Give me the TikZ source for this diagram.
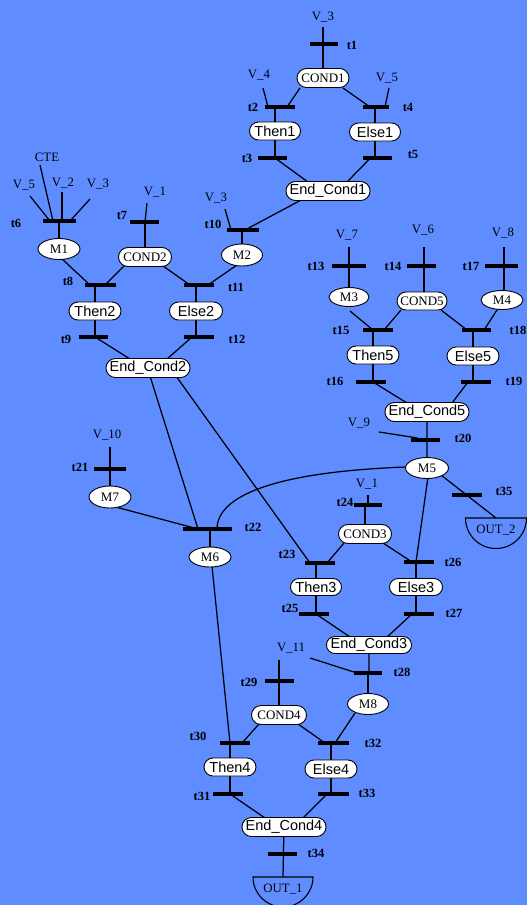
\documentclass[tikz,border=0pt]{standalone}
\usepackage{fontspec}
\setmainfont{Liberation Serif}
\setsansfont{Liberation Sans}
\usetikzlibrary{shapes.misc,shapes.geometric,calc}
\pgfdeclarelayer{bg}
\pgfsetlayers{bg,main}
\definecolor{netblue}{RGB}{95,141,255}

\begin{document}
\begin{tikzpicture}[x=1pt,y=-1pt,
  tbar/.style={rectangle,fill=black,inner sep=0pt,minimum height=4.3pt,minimum width=#1},
  tbar/.default=30,
  snode/.style={rounded rectangle,draw,fill=white,line width=0.9pt,inner sep=1pt,
    minimum height=18,font=\sffamily\fontsize{14.5}{14.5}\selectfont},
  cnode/.style={snode,minimum height=19,font=\rmfamily\fontsize{13}{13}\selectfont},
  mnode/.style={ellipse,draw,fill=white,line width=0.9pt,inner sep=0pt,
    minimum height=21,minimum width=42,font=\fontsize{13}{13}\selectfont},
  tlab/.style={font=\bfseries\fontsize{12.5}{13}\selectfont,inner sep=0pt},
  vlab/.style={font=\fontsize{12.8}{13}\selectfont,inner sep=0pt},
  link/.style={line width=1.25pt},
  outline/.style={line width=1.1pt},
]
\useasboundingbox (0,0) rectangle (527,905);
\begin{pgfonlayer}{bg}
  \fill[netblue] (0,0) rectangle (527,905);
\end{pgfonlayer}
\clip (0,0) rectangle (527,905);

% ---------- places ----------
\node[cnode,minimum width=54] (c1) at (323,78) {COND1};
\node[snode,minimum width=53] (th1) at (275,131) {Then1};
\node[snode,minimum width=53] (el1) at (375,132) {Else1};
\node[snode,minimum width=81,minimum height=19] (ec1) at (328,191) {End\_Cond1};

\node[mnode] (m1) at (59,249) {M1};
\node[cnode,minimum width=55] (c2) at (145,257) {COND2};
\node[mnode,minimum width=41,minimum height=22] (m2) at (242,255) {M2};
\node[snode,minimum width=54] (th2) at (95,311) {Then2};
\node[snode,minimum width=55] (el2) at (196,311) {Else2};
\node[snode,minimum width=83,minimum height=19] (ec2) at (148,368) {End\_Cond2};

\node[mnode,minimum width=40,minimum height=19] (m3) at (349,297) {M3};
\node[cnode,minimum width=52,minimum height=18] (c5) at (422,301) {COND5};
\node[mnode,minimum height=19] (m4) at (502,300) {M4};
\node[snode,minimum width=54] (th5) at (373,355) {Then5};
\node[snode,minimum width=54] (el5) at (473,356) {Else5};
\node[snode,minimum width=84,minimum height=19] (ec5) at (427,412) {End\_Cond5};

\node[mnode,minimum width=43] (m5) at (427,468) {M5};
\node[mnode,minimum height=22] (m7) at (110,497) {M7};
\node[mnode,minimum height=20] (m6) at (210,557) {M6};
\node[cnode,minimum width=55] (c3) at (365,534) {COND3};
\node[snode,minimum width=53,minimum height=17] (th3) at (316,587) {Then3};
\node[snode,minimum width=55,minimum height=17] (el3) at (416,587) {Else3};
\node[snode,minimum width=82,minimum height=17] (ec3) at (369,645) {End\_Cond3};

\node[mnode,minimum width=41] (m8) at (368,704) {M8};
\node[cnode,minimum width=57] (c4) at (279,715) {COND4};
\node[snode,minimum width=54] (th4) at (230,767) {Then4};
\node[snode,minimum width=54] (el4) at (331,769) {Else4};
\node[snode,minimum width=84,minimum height=19] (ec4) at (284,827) {End\_Cond4};

% ---------- outputs ----------
\coordinate (out1) at (283,877);
\coordinate (out2) at (496,518);
\draw[outline] ($(out1)+(-30,0)$) arc[start angle=180,end angle=0,radius=30] -- cycle;
\draw[outline] ($(out2)+(-30.5,0)$) arc[start angle=180,end angle=0,radius=30.5] -- cycle;
\node[vlab] (o1) at ($(out1)+(0,12)$) {OUT\_1};
\node[vlab] (o2) at ($(out2)+(0,12)$) {OUT\_2};

% ---------- transitions ----------
\node[tbar=28] (t1) at (324,44) {};
\node[tbar] (t2) at (280,107) {};
\node[tbar=26] (t4) at (375.5,107) {};
\node[tbar=29] (t3) at (272.5,158) {};
\node[tbar=29] (t5) at (377.5,158) {};
\node[tbar=33] (t6) at (59.5,221) {};
\node[tbar=29] (t7) at (144.5,222) {};
\node[tbar=32] (t10) at (243,230) {};
\node[tbar=31] (t8) at (100.5,285) {};
\node[tbar] (t11) at (199,285) {};
\node[tbar=29] (t9) at (93.5,337) {};
\node[tbar] (t12) at (199,337) {};
\node[tbar=34] (t13) at (349,266) {};
\node[tbar=29] (t14) at (421.5,266) {};
\node[tbar=33] (t17) at (501.5,266) {};
\node[tbar] (t15) at (378,330) {};
\node[tbar=29] (t18) at (476.5,330) {};
\node[tbar] (t16) at (371,382) {};
\node[tbar] (t19) at (476,382) {};
\node[tbar=29] (t20) at (425.5,440) {};
\node[tbar=32] (t21) at (110,469) {};
\node[tbar=49] (t22) at (207.5,529) {};
\node[tbar] (t23) at (320,563) {};
\node[tbar=28] (t24) at (368,505) {};
\node[tbar] (t26) at (419,562) {};
\node[tbar] (t25) at (314,614) {};
\node[tbar] (t27) at (419,614) {};
\node[tbar] (t35) at (467,495) {};
\node[tbar=28] (t28) at (368,673) {};
\node[tbar=29] (t29) at (279.5,681) {};
\node[tbar] (t30) at (235,743) {};
\node[tbar=31] (t32) at (333.5,743) {};
\node[tbar] (t31) at (228,794) {};
\node[tbar=31] (t33) at (333.5,794) {};
\node[tbar=29] (t34) at (282.5,854) {};

% ---------- transition labels ----------
\node[tlab] (lt1) at (352,45) {t1};
\node[tlab] (lt2) at (253,107) {t2};
\node[tlab] (lt4) at (408,107) {t4};
\node[tlab] (lt3) at (247,158) {t3};
\node[tlab] (lt5) at (413,154) {t5};
\node[tlab] (lt6) at (16,223) {t6};
\node[tlab] (lt7) at (122,215) {t7};
\node[tlab] (lt10) at (213,224) {t10};
\node[tlab] (lt8) at (68,281) {t8};
\node[tlab] (lt11) at (236,287) {t11};
\node[tlab] (lt9) at (66,339) {t9};
\node[tlab] (lt12) at (237,339) {t12};
\node[tlab] (lt13) at (316,266) {t13};
\node[tlab] (lt14) at (393,266) {t14};
\node[tlab] (lt17) at (471,266) {t17};
\node[tlab] (lt15) at (341,330) {t15};
\node[tlab] (lt18) at (518,330) {t18};
\node[tlab] (lt16) at (335,381) {t16};
\node[tlab] (lt19) at (514,381) {t19};
\node[tlab] (lt20) at (463,438) {t20};
\node[tlab] (lt21) at (80,467) {t21};
\node[tlab] (lt22) at (253,527) {t22};
\node[tlab] (lt23) at (287,554) {t23};
\node[tlab] (lt24) at (345,502) {t24};
\node[tlab] (lt26) at (453,562) {t26};
\node[tlab] (lt25) at (290,608) {t25};
\node[tlab] (lt27) at (454,613) {t27};
\node[tlab] (lt35) at (504,491) {t35};
\node[tlab] (lt28) at (402,672) {t28};
\node[tlab] (lt29) at (249,682) {t29};
\node[tlab] (lt30) at (198,736) {t30};
\node[tlab] (lt32) at (373,743) {t32};
\node[tlab] (lt31) at (202,796) {t31};
\node[tlab] (lt33) at (367,793) {t33};
\node[tlab] (lt34) at (316,853) {t34};

% ---------- input variable labels and their arc ends ----------
\node[vlab] (lv3a) at (323,17) {V\_3};   \coordinate (v3a) at (323,27);
\node[vlab] (lv4) at (259,75) {V\_4};    \coordinate (v4) at (263,88);
\node[vlab] (lv5a) at (387,78) {V\_5};   \coordinate (v5a) at (389,88);
\node[vlab] (lcte) at (47,157) {CTE};    \coordinate (cte) at (40,165);
\node[vlab] (lv5b) at (24,185) {V\_5};   \coordinate (v5b) at (30,196);
\node[vlab] (lv2) at (63,183) {V\_2};    \coordinate (v2) at (62,192);
\node[vlab] (lv3c) at (98,184) {V\_3};   \coordinate (v3c) at (90,199);
\node[vlab] (lv1a) at (155,192) {V\_1};  \coordinate (v1a) at (147,203);
\node[vlab] (lv3b) at (216,198) {V\_3};  \coordinate (v3b) at (225,209);
\node[vlab] (lv7) at (347,235) {V\_7};   \coordinate (v7) at (349,247);
\node[vlab] (lv6) at (423,230) {V\_6};   \coordinate (v6) at (424,247);
\node[vlab] (lv8) at (503,233) {V\_8};   \coordinate (v8) at (504,247);
\node[vlab] (lv9) at (359,423) {V\_9};   \coordinate (v9) at (379,432);
\node[vlab] (lv10) at (107,435) {V\_10}; \coordinate (v10) at (110,447);
\node[vlab] (lv1b) at (367,484) {V\_1};  \coordinate (v1b) at (368,495);
\node[vlab] (lv11) at (291,648) {V\_11}; \coordinate (v11a) at (310,658);
\coordinate (v11b) at (279,660);

% ---------- arcs ----------
\begin{pgfonlayer}{bg}
\begin{scope}[link]
  % first conditional
  \draw (v3a) -- (v3a |- c1);
  \draw (v4) -- ($(t2)+(-12,0)$);
  \draw (v5a) -- ($(t4)+(9.5,0)$);
  \draw ($(c1)+(-23,10)$) -- ($(t2)+(7,0)$);
  \draw ($(c1)+(20,10)$) -- ($(t4)+(-5.5,0)$);
  \draw (t2 -| th1) -- (th1);
  \draw (t4 -| el1) -- (el1);
  \draw (th1) -- (t3 -| th1);
  \draw (el1) -- (t5 -| el1);
  \draw (t3 -| th1) -- ($(ec1)+(-20,-9)$);
  \draw ($(t5)+(-7,0)$) -- ($(ec1)+(19,-9)$);
  \draw ($(ec1)+(-25,8)$) -- ($(t10)+(2,0)$);
  \draw (v3b) -- ($(t10)+(-12,0)$);
  \draw (t10 -| m2) -- (m2);
  % second conditional
  \draw (cte) -- ($(t6)+(-6.5,0)$);
  \draw (v5b) -- ($(t6)+(-9.5,0)$);
  \draw (v2) -- ($(t6)+(2.5,0)$);
  \draw (v3c) -- ($(t6)+(10.5,0)$);
  \draw (t6 -| m1) -- (m1);
  \draw (v1a) -- ($(t7)+(0.5,0)$);
  \draw (t7 -| c2) -- (c2);
  \draw ($(m1)+(2,9)$) -- ($(t8)+(-10.5,0)$);
  \draw ($(c2)+(-21,9)$) -- ($(t8)+(4.5,0)$);
  \draw ($(c2)+(18,9)$) -- ($(t11)+(-9,0)$);
  \draw ($(m2)+(-5,10)$) -- ($(t11)+(9,0)$);
  \draw (t8 -| th2) -- (th2);
  \draw (t11 -| el2) -- (el2);
  \draw (th2) -- (t9 -| th2);
  \draw (el2) -- (t12 -| el2);
  \draw (t9 -| th2) -- ($(ec2)+(-18,-9)$);
  \draw ($(t12)+(-7,0)$) -- ($(ec2)+(19,-9)$);
  % fifth conditional
  \draw (v7) -- (m3);
  \draw (v6) -- (v6 |- c5);
  \draw (v8) -- (v8 |- m4);
  \draw ($(m3)+(1,14)$) -- ($(t15)+(-5,0)$);
  \draw ($(c5)+(-21,9)$) -- ($(t15)+(6,0)$);
  \draw ($(c5)+(19,9)$) -- ($(t18)+(-9.5,0)$);
  \draw ($(m4)+(-5,10)$) -- ($(t18)+(7.5,0)$);
  \draw (t15 -| th5) -- (th5);
  \draw (t18 -| el5) -- (el5);
  \draw (th5) -- (t16 -| th5);
  \draw (el5) -- (t19 -| el5);
  \draw (t16 -| th5) -- ($(ec5)+(-20,-9)$);
  \draw ($(t19)+(-8,0)$) -- ($(ec5)+(25,-9)$);
  \draw (ec5) -- (m5);
  \draw (v9) -- ($(t20)+(-8,-2)$);
  % merge towards M6
  \draw (v10) -- (v10 |- m7);
  \draw ($(m7)+(2,9)$) -- ($(t22)+(-9.5,0)$);
  \draw ($(ec2)+(2,8)$) -- ($(t22)+(-9.5,0)$);
  \draw ($(t22)+(9.5,0)$) .. controls +(0,-32) and +(-135,5) .. ($(m5)+(-21,-1)$);
  \draw (t22 -| m6) -- (m6);
  % third conditional
  \draw ($(ec2)+(28,8)$) -- ($(t23)+(-10,0)$);
  \draw (v1b) -- (v1b |- t24);
  \draw (t24 -| c3) -- (c3);
  \draw ($(c3)+(-21,9)$) -- ($(t23)+(7,0)$);
  \draw ($(c3)+(18,9)$) -- ($(t26)+(-7,0)$);
  \draw ($(m5)+(1,9)$) -- ($(t26)+(-3,0)$);
  \draw ($(m5)+(14,7)$) -- (out2);
  \draw (t23 -| th3) -- (th3);
  \draw (t26 -| el3) -- (el3);
  \draw (th3) -- (t25 -| th3);
  \draw (el3) -- (t27 -| el3);
  \draw (t25 -| th3) -- ($(ec3)+(-19,-8)$);
  \draw ($(t27)+(-7,0)$) -- ($(ec3)+(18,-8)$);
  \draw (ec3) -- (t28 -| ec3);
  \draw (t28 -| m8) -- (m8);
  \draw (v11a) -- ($(t28)+(-11,0)$);
  % fourth conditional
  \draw (v11b) -- (v11b |- t29);
  \draw (t29 -| c4) -- (c4);
  \draw ($(m6)+(2,9)$) -- ($(t30)+(-5,0)$);
  \draw ($(c4)+(-20,9)$) -- ($(t30)+(7,0)$);
  \draw ($(c4)+(19,9)$) -- ($(t32)+(-8.5,0)$);
  \draw ($(m8)+(-13,9)$) -- ($(t32)+(1.5,0)$);
  \draw (t30 -| th4) -- (th4);
  \draw (t32 -| el4) -- (el4);
  \draw (th4) -- (t31 -| th4);
  \draw (el4) -- (t33 -| el4);
  \draw (t31 -| th4) -- ($(ec4)+(-19,-9)$);
  \draw ($(t33)+(-6.5,0)$) -- ($(ec4)+(19,-9)$);
  \draw (ec4) -- (out1);
\end{scope}
\end{pgfonlayer}
\end{tikzpicture}
\end{document}
